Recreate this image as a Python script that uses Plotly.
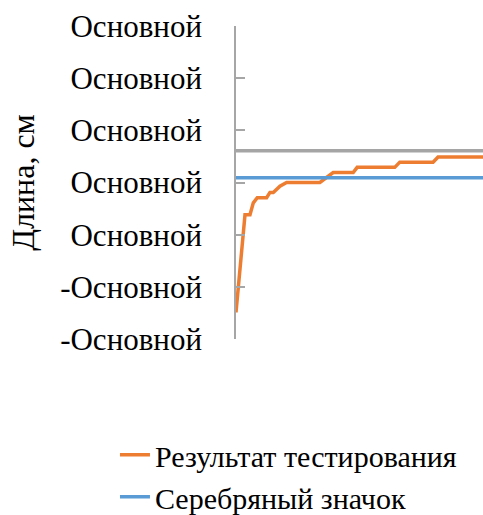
import plotly.graph_objects as go

# Data
result_x = [0, 2.7, 4.2, 5.2, 6.4, 9.2, 10.2, 11.2, 13.2, 15.2, 25.2, 29.2, 35.2, 36.4, 47.7, 49.2, 59.2, 60.7, 74.2]
result_y = [-14.9, 3.8, 3.8, 6.1, 7.1, 7.1, 8.1, 8.1, 9.3, 10.0, 10.0, 11.9, 11.9, 12.9, 12.9, 13.9, 13.9, 14.9, 14.9]
silver_x = [0, 74.2]
silver_y = [10.9, 10.9]
gold_x = [0, 74.2]
gold_y = [16.1, 16.1]

tick_vals = [-20, -10, 0, 10, 20, 30, 40]
tick_text = ["-Основной", "-Основной", "Основной", "Основной", "Основной", "Основной", "Основной"]

series_names = ["Результат тестирования", "Серебряный значок", "Золотой значок"]
colors = ["#ED7D31", "#5B9BD5", "#A5A5A5"]
y_title = "Длина, см"

FONT = "Liberation Serif"

fig = go.Figure()
fig.add_trace(go.Scatter(x=result_x, y=result_y, mode="lines", name=series_names[0],
                         line=dict(color=colors[0], width=3.5)))
fig.add_trace(go.Scatter(x=silver_x, y=silver_y, mode="lines", name=series_names[1],
                         line=dict(color=colors[1], width=3.5)))
fig.add_trace(go.Scatter(x=gold_x, y=gold_y, mode="lines", name=series_names[2],
                         line=dict(color=colors[2], width=3.5), showlegend=False))

fig.update_layout(
    width=483, height=515,
    margin=dict(l=236, r=0, t=26, b=176, autoexpand=False),
    paper_bgcolor="white", plot_bgcolor="white",
    font=dict(family=FONT, color="#000000"),
    xaxis=dict(range=[0, 74.2], visible=False, fixedrange=True),
    yaxis=dict(range=[-20, 40], tickvals=tick_vals, ticktext=tick_text, automargin=False,
               showgrid=False, zeroline=False, showline=True, linecolor="#A6A6A6", linewidth=1.5,
               ticks="inside", ticklen=9, tickcolor="#A6A6A6", tickwidth=1.5,
               tickfont=dict(family=FONT, size=31, color="#000000"),
               ticklabelstandoff=26),
    annotations=[dict(text=y_title, textangle=-90, xref="paper", yref="paper",
                      x=-0.865, y=0.5, xanchor="center", yanchor="middle", showarrow=False,
                      font=dict(family=FONT, size=32, color="#000000"))],
    showlegend=True,
    legend=dict(x=-0.49, y=-0.287, xanchor="left", yanchor="top", orientation="v",
                font=dict(family=FONT, size=30, color="#000000"),
                bgcolor="rgba(0,0,0,0)", tracegroupgap=0, itemwidth=30),
)

fig.write_html("out.html", config={"displayModeBar": False},
               post_script="document.body.style.margin='0';document.body.style.overflow='hidden';")
